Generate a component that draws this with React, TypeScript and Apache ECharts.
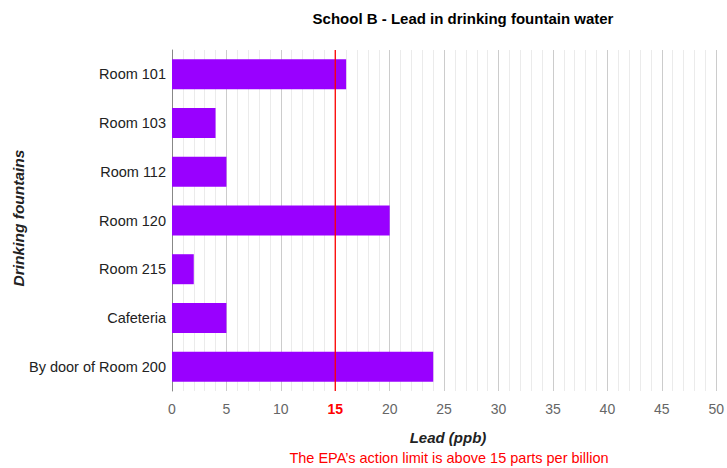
import React, { useEffect, useRef } from "react";
import * as echarts from "echarts";

const categories = ["Room 101", "Room 103", "Room 112", "Room 120", "Room 215", "Cafeteria", "By door of Room 200"];
const leadValues = [16, 4, 5, 20, 2, 5, 24];
const epaLimit = 15;
const chartTitle = "School B - Lead in drinking fountain water";
const xTitle = "Lead (ppb)";
const yTitle = "Drinking fountains";
const note = "The EPA\u2019s action limit is above 15 parts per billion";

const FONT = "Liberation Sans, Arial, sans-serif";
const GRID_TOP = 50;
const GRID_BOTTOM = 77;
const HEIGHT = 468;

export default function App() {
  const ref = useRef<HTMLDivElement>(null);
  useEffect(() => {
    if (!ref.current) return;
    const chart = echarts.init(ref.current, null, { renderer: "svg" });
    chart.setOption({
      animation: false,
      backgroundColor: "#ffffff",
      textStyle: { fontFamily: FONT },
      grid: { left: 172, right: 10, top: GRID_TOP, bottom: GRID_BOTTOM, containLabel: false },
      xAxis: {
        type: "value",
        min: 0,
        max: 50,
        interval: 5,
        axisLine: { show: false },
        axisTick: { show: false },
        minorTick: { show: false, splitNumber: 5 },
        splitLine: { show: true, lineStyle: { color: "#cccccc", width: 1 } },
        minorSplitLine: { show: true, lineStyle: { color: "#ebebeb", width: 1 } },
        axisLabel: {
          margin: 11,
          fontSize: 14,
          color: "#666666",
          fontFamily: FONT,
          formatter: (v: number) => (v === epaLimit ? "{red|" + v + "}" : String(v)),
          rich: { red: { color: "#ff0000", fontWeight: "bold", fontSize: 14, fontFamily: FONT } },
        },
      },
      yAxis: {
        type: "category",
        data: categories,
        inverse: true,
        axisLine: { show: true, lineStyle: { color: "#888888", width: 1 } },
        axisTick: { show: false },
        splitLine: { show: false },
        axisLabel: { margin: 6, fontSize: 14.5, color: "#222222", fontFamily: FONT },
      },
      series: [
        {
          type: "bar",
          data: leadValues,
          barWidth: 30,
          itemStyle: { color: "#9900ff" },
          z: 2,
        },
      ],
      graphic: [
        {
          type: "text",
          x: 463,
          y: 18,
          style: {
            text: chartTitle,
            fontSize: 15,
            fontWeight: "bold",
            fill: "#000000",
            fontFamily: FONT,
            align: "center",
            verticalAlign: "middle",
          },
        },
        {
          type: "text",
          x: 448,
          y: 437,
          style: {
            text: xTitle,
            fontSize: 15,
            fontWeight: "bold",
            fontStyle: "italic",
            fill: "#222222",
            fontFamily: FONT,
            align: "center",
            verticalAlign: "middle",
          },
        },
        {
          type: "text",
          x: 449,
          y: 458,
          style: {
            text: note,
            fontSize: 14.5,
            fill: "#ff0000",
            fontFamily: FONT,
            align: "center",
            verticalAlign: "middle",
          },
        },
        {
          type: "text",
          x: 18,
          y: 218,
          rotation: Math.PI / 2,
          style: {
            text: yTitle,
            fontSize: 15.5,
            fontWeight: "bold",
            fontStyle: "italic",
            fill: "#222222",
            fontFamily: FONT,
            align: "center",
            verticalAlign: "middle",
          },
        },
      ],
    });
    const xp = chart.convertToPixel({ xAxisIndex: 0 }, epaLimit) as number;
    chart.setOption({
      graphic: [
        {
          id: "epaLine",
          type: "line",
          z: 100,
          shape: { x1: xp, y1: GRID_TOP, x2: xp, y2: HEIGHT - GRID_BOTTOM },
          style: { stroke: "#ff0000", lineWidth: 1.3 },
          silent: true,
        },
      ],
    });
    return () => chart.dispose();
  }, []);
  return <div ref={ref} style={{ width: 727, height: 468, position: "fixed", left: 0, top: 0 }} />;
}
